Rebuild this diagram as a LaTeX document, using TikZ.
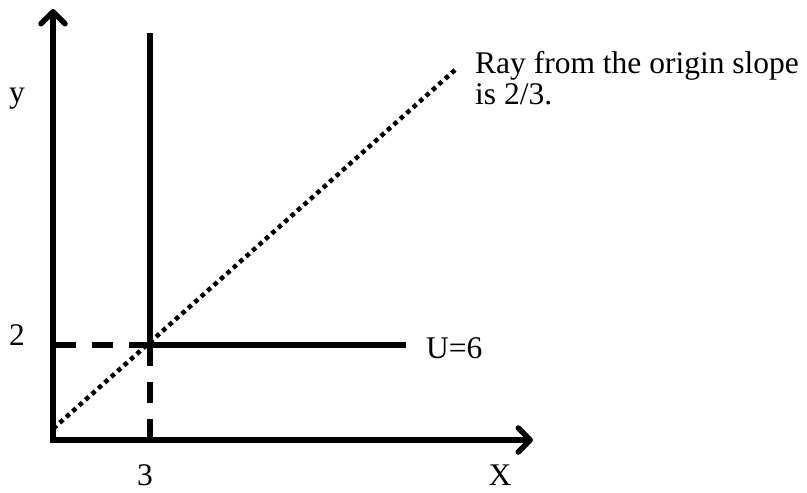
\documentclass[tikz,border=0pt]{standalone}
\usepackage{fontspec}
\setmainfont{Liberation Serif}
\usetikzlibrary{arrows.meta}
\begin{document}
\begin{tikzpicture}[x=1pt,y=-1pt,
  axisline/.style={line width=5.5pt,-{Straight Barb[length=12pt,width=24pt,round]}},
  curve/.style={line width=5.5pt},
  guide/.style={line width=5.5pt,dash pattern=on 21pt off 16pt},
  rayline/.style={line width=4.5pt,line cap=rect,dash pattern=on 0.01pt off 8.6pt},
  lbl/.style={inner sep=0pt,font=\fontsize{31.5}{36}\selectfont}]
\useasboundingbox (0,0) rectangle (807,493);
\coordinate (O) at (53,440);
\coordinate (ytop) at (53,9);
\coordinate (xend) at (533,440);
\coordinate (vtop) at (150,33);
\coordinate (P) at (150,345);
\coordinate (vbot) at (150,440);
\coordinate (hend) at (406,345);
\coordinate (hstart) at (53,345);
\coordinate (rstart) at (55,427);
\coordinate (rend) at (455,70);
% guides
\draw[guide] (P) -- (hstart);
\draw[guide] (P) -- (vbot);
% ray
\draw[rayline] (rstart) -- (rend);
% curve
\draw[curve] (vtop) -- (P) -- (hend);
% axes
\draw[axisline] (O) -- (ytop);
\draw[axisline] ([xshift=-2.75pt]O) -- (xend);
% labels
\node[lbl,anchor=base] (ylab) at (17,102) {y};
\node[lbl,anchor=base] (two) at (17,345) {2};
\node[lbl,anchor=base] (three) at (145,485) {3};
\node[lbl,anchor=base] (xlab) at (500,485) {X};
\node[lbl,anchor=base west] (ulab) at (426,358) {U=6};
\node[lbl,anchor=base west] (ray1) at (475,73) {Ray from the origin slope};
\node[lbl,anchor=base west] (ray2) at (475,104) {is 2/3.};
\end{tikzpicture}
\end{document}
